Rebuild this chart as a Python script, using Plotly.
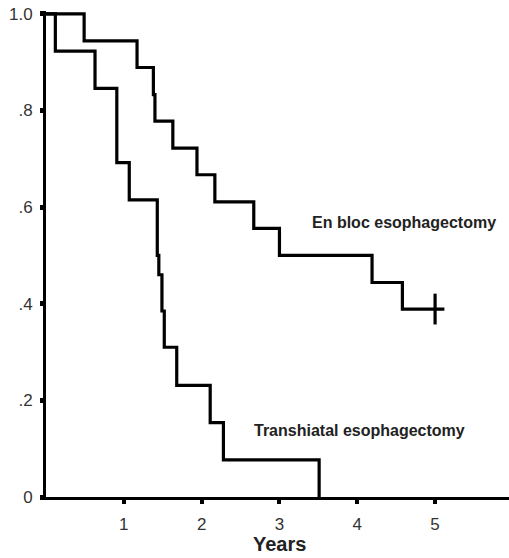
import plotly.graph_objects as go

# En bloc esophagectomy (Kaplan-Meier step values)
enbloc_years = [0, 0.49, 1.17, 1.38, 1.40, 1.63, 1.94, 2.17, 2.67, 3.00, 4.19, 4.58, 5.12]
enbloc_surv = [1.0, 0.944, 0.889, 0.833, 0.778, 0.722, 0.667, 0.611, 0.556, 0.500, 0.444, 0.389, 0.389]
enbloc_censor_year = [5.0]
enbloc_censor_surv = [0.389]

# Transhiatal esophagectomy
trans_years = [0, 0.12, 0.63, 0.91, 1.07, 1.43, 1.45, 1.49, 1.52, 1.68, 2.11, 2.28, 3.51]
trans_surv = [1.0, 0.923, 0.846, 0.692, 0.615, 0.50, 0.46, 0.385, 0.31, 0.231, 0.154, 0.077, 0.0]

x_ticks = [1, 2, 3, 4, 5]
y_ticks = [0, 0.2, 0.4, 0.6, 0.8, 1.0]
y_tick_labels = ["0", ".2", ".4", ".6", ".8", "1.0"]

fig = go.Figure()
fig.add_trace(go.Scatter(x=enbloc_years, y=enbloc_surv, mode="lines",
                         line=dict(shape="hv", color="black", width=3.2),
                         showlegend=False, hoverinfo="skip"))
fig.add_trace(go.Scatter(x=enbloc_censor_year, y=enbloc_censor_surv, mode="markers",
                         marker=dict(symbol="line-ns", size=22, line=dict(color="black", width=3.2)),
                         showlegend=False, hoverinfo="skip", cliponaxis=False))
fig.add_trace(go.Scatter(x=trans_years, y=trans_surv, mode="lines",
                         line=dict(shape="hv", color="black", width=3.2),
                         showlegend=False, hoverinfo="skip"))

fig.add_annotation(x=3.39, y=0.569, xref="x", yref="y", text="<b>En bloc esophagectomy</b>",
                   showarrow=False, xanchor="left", yanchor="middle",
                   font=dict(family="Liberation Sans, Arial", size=16, color="#222"))
fig.add_annotation(x=2.65, y=0.137, xref="x", yref="y", text="<b>Transhiatal esophagectomy</b>",
                   showarrow=False, xanchor="left", yanchor="middle",
                   font=dict(family="Liberation Sans, Arial", size=16, color="#222"))
fig.add_annotation(x=3.0, y=0, xref="x", yref="paper", text="<b>Years</b>",
                   showarrow=False, xanchor="center", yanchor="bottom", yshift=-60,
                   font=dict(family="Liberation Sans, Arial", size=20, color="#222"))

fig.update_layout(
    width=509, height=558,
    margin=dict(l=46, r=0, t=11, b=61),
    paper_bgcolor="white", plot_bgcolor="white",
    font=dict(family="Liberation Sans, Arial", size=17, color="#333"),
)
fig.update_xaxes(range=[0, 5.95], tickvals=x_ticks, ticktext=[str(v) for v in x_ticks],
                 showgrid=False, zeroline=False, showline=True, linecolor="black", linewidth=3,
                 ticks="outside", ticklen=4, tickwidth=4, tickcolor="black",
                 ticklabelstandoff=6)
fig.update_yaxes(range=[0, 1.006], tickvals=y_ticks, ticktext=y_tick_labels,
                 showgrid=False, zeroline=False, showline=True, linecolor="black", linewidth=3,
                 ticks="outside", ticklen=3, tickwidth=5, tickcolor="black",
                 ticklabelstandoff=4)

fig.write_html("out.html")
